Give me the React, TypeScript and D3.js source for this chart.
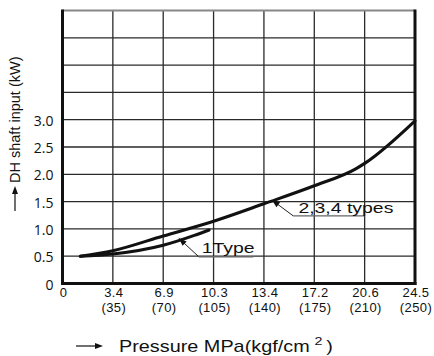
import React from "react";
import * as d3 from "d3";

const pressureTicks = [0, 3.4, 6.9, 10.3, 13.4, 17.2, 20.6, 24.5];
const kgfTicks = ["", "(35)", "(70)", "(105)", "(140)", "(175)", "(210)", "(250)"];
const yTickValues = [0, 0.5, 1.0, 1.5, 2.0, 2.5, 3.0];
const yGridValues = [0.5, 1, 1.5, 2, 2.5, 3, 3.5, 4, 4.5];

const typesX = [1.2, 3.4, 6.9, 10.3, 13.4, 17.2, 20.0, 20.6, 24.5];
const typesY = [0.5, 0.6, 0.87, 1.14, 1.46, 1.79, 2.1, 2.2, 2.98];

const type1X = [1.2, 3.4, 6.9, 9.0, 10.0];
const type1Y = [0.5, 0.54, 0.7, 0.88, 0.98];

const W = 434;
const H = 356;
const left = 62.5;
const right = 415;
const top = 10.5;
const bottom = 283.5;

export default function App() {
  const x = d3
    .scaleLinear()
    .domain(pressureTicks)
    .range(pressureTicks.map((_, i) => left + (i * (right - left)) / (pressureTicks.length - 1)));
  const y = d3.scaleLinear().domain([0, 5]).range([bottom, top]);

  const line = d3
    .line<[number, number]>()
    .x((d) => x(d[0]))
    .y((d) => y(d[1]))
    .curve(d3.curveMonotoneX);

  const typesPts = typesX.map((v, i) => [v, typesY[i]] as [number, number]);
  const type1Pts = type1X.map((v, i) => [v, type1Y[i]] as [number, number]);

  const arrowHead = (tx: number, ty: number, fx: number, fy: number) => {
    const ang = Math.atan2(ty - fy, tx - fx);
    const len = 8;
    const wid = 3;
    const bx = tx - len * Math.cos(ang);
    const by = ty - len * Math.sin(ang);
    const px = -Math.sin(ang) * wid;
    const py = Math.cos(ang) * wid;
    return `M${tx},${ty}L${bx + px},${by + py}L${bx - px},${by - py}Z`;
  };

  const ann = [
    { tip: [7.95, 0.83], knee: [9.3, 0.49], end: [12.75, 0.49], text: "1Type", tx: 9.5, ty: 0.55 },
    { tip: [14.0, 1.53], knee: [15.6, 1.24], end: [20.6, 1.24], text: "2,3,4 types", tx: 16.0, ty: 1.3 },
  ];

  const labelFont = "'Liberation Sans', Arial, sans-serif";
  const tickFont = "'Open Sans', sans-serif";
  const xTickFont = "'Liberation Sans', Arial, sans-serif";

  return (
    <svg width={W} height={H} style={{ position: "absolute", left: 0, top: 0, background: "#fff" }}>
      <rect x={0} y={0} width={W} height={H} fill="#fff" />
      {pressureTicks.slice(1, -1).map((p, i) => (
        <line key={"vx" + i} x1={x(p)} x2={x(p)} y1={top} y2={bottom} stroke="#2a2a2a" strokeWidth={1.3} />
      ))}
      {yGridValues.map((v, i) => (
        <line key={"hy" + i} x1={left} x2={right} y1={y(v)} y2={y(v)} stroke="#2a2a2a" strokeWidth={1.3} />
      ))}
      <line x1={left} x2={right} y1={top} y2={top} stroke="#888" strokeWidth={2} />
      <line x1={left} x2={left} y1={top - 1} y2={bottom + 1.5} stroke="#111" strokeWidth={3} />
      <line x1={right} x2={right} y1={top - 1} y2={bottom + 1.5} stroke="#111" strokeWidth={3} />
      <line x1={left - 1.5} x2={right + 1.5} y1={bottom} y2={bottom} stroke="#111" strokeWidth={3} />

      <path d={line(typesPts) || ""} fill="none" stroke="#111" strokeWidth={3} strokeLinecap="round" />
      <path d={line(type1Pts) || ""} fill="none" stroke="#111" strokeWidth={3} strokeLinecap="round" />

      {ann.map((a, i) => {
        const tx = x(a.tip[0]), ty = y(a.tip[1]);
        const kx = x(a.knee[0]), ky = y(a.knee[1]);
        const ex = x(a.end[0]), ey = y(a.end[1]);
        return (
          <g key={"ann" + i}>
            <path d={`M${kx},${ky}L${tx},${ty}`} stroke="#222" strokeWidth={1} fill="none" />
            <path d={`M${kx},${ky}L${ex},${ey}`} stroke="#666" strokeWidth={1.3} fill="none" />
            <path d={arrowHead(tx, ty, kx, ky)} fill="#111" />
            <g transform={`translate(${x(a.tx)},${y(a.ty)}) scale(1.34,1)`}>
              <text x={0} y={0} fontFamily={labelFont} fontSize={14.5} fill="#111">
                {a.text}
              </text>
            </g>
          </g>
        );
      })}

      {yTickValues.map((v, i) => (
        <text
          key={"yt" + i}
          x={53.5}
          y={y(v) + 6}
          textAnchor="end"
          fontFamily={tickFont}
          fontSize={14}
          fill="#111"
        >
          {v === 0 ? "0" : v.toFixed(1)}
        </text>
      ))}

      {pressureTicks.map((p, i) => (
        <g key={"xt" + i}>
          <text x={x(p) + 1} y={297} textAnchor="middle" fontFamily={xTickFont} fontSize={13} letterSpacing={0.4} fill="#111">
            {p === 0 ? "0" : p.toFixed(1)}
          </text>
          <text x={x(p) + 1} y={311.5} textAnchor="middle" fontFamily={xTickFont} fontSize={13} letterSpacing={0.4} fill="#111">
            {kgfTicks[i]}
          </text>
        </g>
      ))}

      <line x1={76} x2={97} y1={346} y2={346} stroke="#111" strokeWidth={1.2} />
      <path d={arrowHead(103, 346, 76, 346)} fill="#111" />
      <g transform="translate(119,351.5) scale(1.24,1)">
        <text x={0} y={0} fontFamily={labelFont} fontSize={16} fill="#111">
          Pressure MPa(kgf/cm
          <tspan dx={4} dy={-7} fontSize={11.5}>2</tspan>
          <tspan dx={3} dy={7}>)</tspan>
        </text>
      </g>

      <line x1={15} x2={15} y1={211} y2={192} stroke="#111" strokeWidth={1.2} />
      <path d={arrowHead(15, 186, 15, 211)} fill="#111" />
      <text
        transform="translate(19.5,183) rotate(-90)"
        x={0}
        y={0}
        fontFamily={labelFont}
        fontSize={14.5}
        fill="#111"
      >
        DH shaft input (kW)
      </text>
    </svg>
  );
}
